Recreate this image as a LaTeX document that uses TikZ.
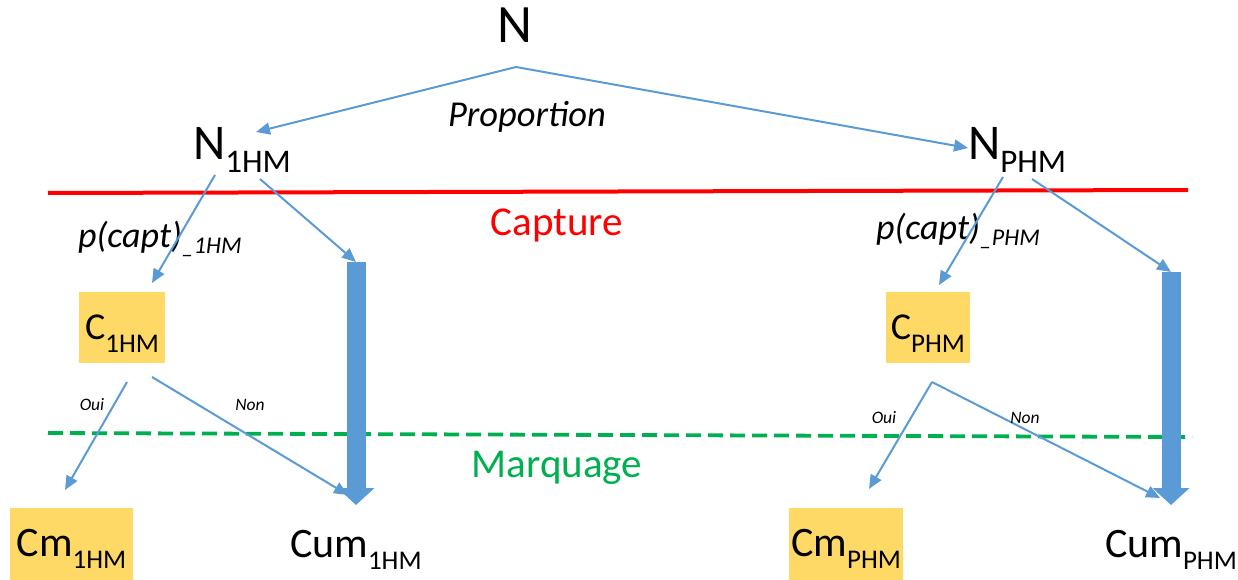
\documentclass[tikz,border=0pt]{standalone}
\usepackage{fontspec}
\setmainfont{Carlito}
\usetikzlibrary{arrows.meta,calc}
\definecolor{arrBlue}{HTML}{5B9BD5}
\definecolor{boxYellow}{HTML}{FFD966}
\definecolor{capRed}{HTML}{FF0000}
\definecolor{marqGreen}{HTML}{00B050}

\newcommand{\fsz}[1]{\fontsize{#1}{#1}\selectfont}
% big letters with a lowered index
\newcommand{\idx}[4]{{\fsz{#1}#2\raisebox{-12.5pt}{\fsz{#3}#4}}}

\begin{document}
\begin{tikzpicture}[x=1pt,y=-1pt,
    every node/.style={inner sep=0pt,outer sep=0pt},
    thinarr/.style={draw=arrBlue,line width=2pt,-{Triangle[length=14pt,width=12pt]}},
    bigarr/.style={draw=arrBlue,line width=19pt,-{Triangle[length=17pt,width=36pt]}},
    ybox/.style={fill=boxYellow,text height=36pt,text depth=12pt},
    smalltxt/.style={font=\fsz{17.5}\itshape}]

  \useasboundingbox (0,0) rectangle (1238,580);

  % the two limits
  \draw [capRed,line width=4pt] (48,193) -- (1188,190);
  \draw [marqGreen,line width=3.8pt,dash pattern=on 15pt off 7pt] (48,433) -- (1192,437);
  \node [anchor=base,font=\fsz{41},text=capRed] (capture) at (557,235) {Capture};
  \node [anchor=base,font=\fsz{41},text=marqGreen] (marquage) at (557,477) {Marquage};

  % population
  \node [anchor=base,font=\fsz{54}] (N) at (515,43) {N};
  \node [anchor=base west] (n1) at (193,160) {\idx{50}{N}{33}{1HM}};
  \node [anchor=base west] (nP) at (968,160) {\idx{50}{N}{33}{PHM}};
  \node [anchor=base west,font=\fsz{36.5}\itshape] (prop) at (448,127) {Proportion};

  % captures
  \node [anchor=base west] (p1) at (78,247) {{\fsz{36}\itshape p(capt)\raisebox{-6pt}{\fsz{24}\_1HM}}};
  \node [anchor=base west] (pP) at (876,239) {{\fsz{36}\itshape p(capt)\raisebox{-6pt}{\fsz{24}\_PHM}}};
  \node [ybox,minimum width=86pt,minimum height=71pt,anchor=north west] (c1) at (79,292) {\idx{38}{C}{27}{1HM}};
  \node [ybox,minimum width=84pt,minimum height=71pt,anchor=north west] (cP) at (886,292) {\idx{38}{C}{27}{PHM}};

  % marked / unmarked
  \node [ybox,minimum width=123pt,minimum height=72pt,anchor=north west] (cm1) at (10,508) {\idx{42}{Cm}{27}{1HM}};
  \node [ybox,minimum width=114pt,minimum height=72pt,anchor=north west] (cmP) at (789,508) {\idx{42}{Cm}{27}{PHM}};
  \node [anchor=base west] (cum1) at (290,557) {\idx{42}{Cum}{27}{1HM}};
  \node [anchor=base west] (cumP) at (1105,557) {\idx{42}{Cum}{27}{PHM}};

  % thick flows of the uncaught
  \coordinate (flow1) at (356,262);
  \coordinate (flowP) at (1171,272);
  \draw [bigarr] (flow1) -- ($(cum1.base west)+(66,-52)$);
  \draw [bigarr] (flowP) -- ($(cumP.base west)+(66,-52)$);

  % thin arrows
  \draw [thinarr] ($(N.south)+(1,24)$) -- ($(n1.base west)+(63,-28)$);
  \draw [thinarr] ($(N.south)+(1,24)$) -- ($(nP.base west)+(0,-12)$);
  \draw [thinarr] ($(n1.base west)+(22,15)$) -- ($(c1.north)+(30,-9)$);
  \draw [thinarr] ($(n1.base west)+(67,19)$) -- (flow1);
  \draw [thinarr] ($(nP.base west)+(35,17)$) -- ($(cP.north)+(11,-7)$);
  \draw [thinarr] ($(nP.base west)+(64,19)$) -- (flowP);

  \draw [thinarr] ($(c1.south)+(5,19)$) -- ($(cm1.north)+(-6.5,-18)$);
  \draw [thinarr] ($(c1.south)+(30,14)$) -- ($(cum1.base west)+(58,-62)$);
  \draw [thinarr] ($(cP.south)+(4,19)$) -- ($(cmP.north)+(23,-19)$);
  \draw [thinarr] ($(cP.south)+(4,19)$) -- ($(cumP.base west)+(55,-59)$);

  \node [smalltxt] (oui1) at (92,405) {Oui};
  \node [smalltxt] (non1) at (250,405) {Non};
  \node [smalltxt] (ouiP) at (884,418) {Oui};
  \node [smalltxt] (nonP) at (1025,418) {Non};

\end{tikzpicture}
\end{document}
